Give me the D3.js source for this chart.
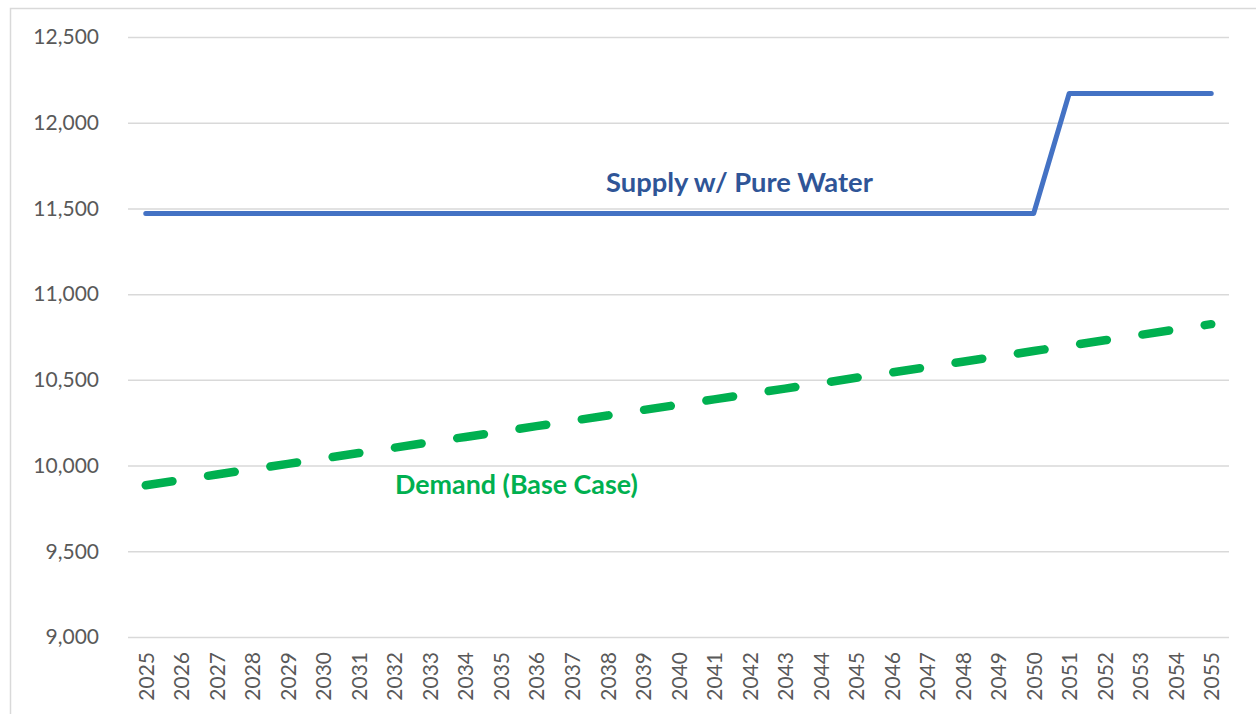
<!DOCTYPE html>
<html>
<head>
<meta charset="utf-8">
<script src="https://cdn.jsdelivr.net/npm/d3@7"></script>
<style>
  html, body { margin: 0; padding: 0; background: #fff; }
  svg { display: block; font-family: Lato, "Open Sans", sans-serif; }
</style>
</head>
<body>
<svg id="chart" width="1256" height="714"></svg>
<script>
// Water supply vs. demand, 2025–2055 (Excel-style line chart)

const years = ['2025','2026','2027','2028','2029','2030','2031','2032','2033','2034','2035',
  '2036','2037','2038','2039','2040','2041','2042','2043','2044','2045','2046','2047','2048',
  '2049','2050','2051','2052','2053','2054','2055'];

const supply = [11470, 11470, 11470, 11470, 11470, 11470, 11470, 11470, 11470, 11470, 11470,
  11470, 11470, 11470, 11470, 11470, 11470, 11470, 11470, 11470, 11470, 11470, 11470, 11470,
  11470, 11470, 12170, 12170, 12170, 12170, 12170];

const demand = [9885, 9916, 9948, 9979, 10010, 10042, 10073, 10104, 10136, 10167, 10198,
  10230, 10261, 10292, 10324, 10355, 10386, 10418, 10449, 10480, 10512, 10543, 10574, 10606,
  10637, 10668, 10700, 10731, 10762, 10794, 10825];

const yTicks = [9000, 9500, 10000, 10500, 11000, 11500, 12000, 12500];

const svg = d3.select('#chart');
const plot = { left: 128, right: 1229, top: 37, bottom: 637 };

// chart frame (only top and left edges are visible in the crop)
svg.append('path')
  .attr('d', 'M10.5,714 L10.5,8.5 L1256,8.5')
  .attr('fill', 'none').attr('stroke', '#d9d9d9').attr('stroke-width', 1.5);

const x = d3.scalePoint().domain(years).range([plot.left, plot.right]).padding(0.5);
const y = d3.scaleLinear().domain([9000, 12500]).range([plot.bottom, plot.top]);

// gridlines + y labels
const yAxis = d3.axisLeft(y).tickValues(yTicks)
  .tickSize(-(plot.right - plot.left)).tickPadding(29)
  .tickFormat(d3.format(','));
svg.append('g').attr('transform', `translate(${plot.left},0)`).call(yAxis)
  .call(g => g.select('.domain').remove())
  .call(g => g.selectAll('.tick line').attr('stroke', '#d9d9d9').attr('stroke-width', 1.5))
  .call(g => g.selectAll('.tick text').attr('fill', '#595959')
    .attr('font-size', 21).attr('font-family', 'Lato, sans-serif'));

// x labels (rotated)
const xAxis = d3.axisBottom(x).tickSize(0).tickPadding(0);
svg.append('g').attr('transform', `translate(0,${plot.bottom})`).call(xAxis)
  .call(g => g.select('.domain').remove())
  .call(g => g.selectAll('.tick text')
    .attr('fill', '#595959').attr('font-size', 21).attr('font-family', 'Lato, sans-serif')
    .attr('transform', 'rotate(-90)')
    .attr('text-anchor', 'end')
    .attr('x', -15).attr('y', 0).attr('dy', '0.36em'));

const line = d3.line().x((d, i) => x(years[i])).y(d => y(d));

svg.append('path').datum(demand)
  .attr('d', line)
  .attr('fill', 'none')
  .attr('stroke', '#00b050')
  .attr('stroke-width', 8.5)
  .attr('stroke-linecap', 'round')
  .attr('stroke-dasharray', '27,36');

svg.append('path').datum(supply)
  .attr('d', line)
  .attr('fill', 'none')
  .attr('stroke', '#4472c4')
  .attr('stroke-width', 5)
  .attr('stroke-linecap', 'round')
  .attr('stroke-linejoin', 'round');

// in-plot series labels, sized to match the reference widths
function label(text, color, left, baseline, width) {
  const t = svg.append('text')
    .attr('x', left).attr('y', baseline)
    .attr('fill', color).attr('font-weight', 700)
    .attr('font-family', 'Lato, sans-serif')
    .attr('font-size', 100).text(text);
  const w = t.node().getComputedTextLength();
  t.attr('font-size', 100 * width / w);
}
label('Supply w/ Pure Water', '#2f5597', 606, 192, 267);
label('Demand (Base Case)', '#00b050', 395, 494, 243);
</script>
</body>
</html>
